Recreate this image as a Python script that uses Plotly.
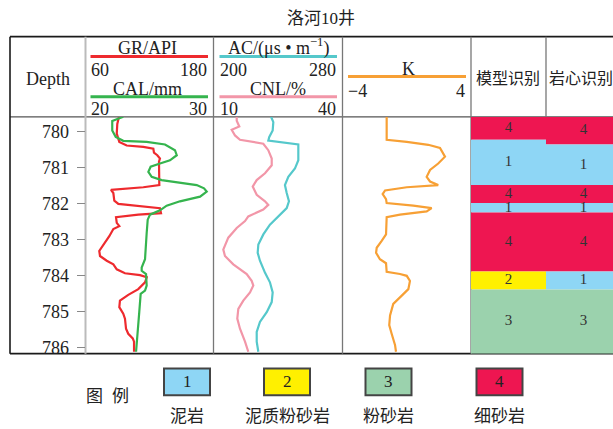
import plotly.graph_objects as go

W, H = 613, 429

# ---------------- data ----------------
DEPTH_TOP, DEPTH_BOT = 779.595, 786.173
depth_ticks = [780, 781, 782, 783, 784, 785, 786]

# Track 1: GR (API) and CAL (mm)
gr_depth = [779.59, 779.79, 780.06, 780.29, 780.39, 780.43, 780.48, 780.59, 780.66, 780.75,
            780.84, 781.16, 781.49, 781.55, 781.60, 781.62, 781.71, 781.92, 782.01, 782.08,
            782.13, 782.27, 782.31, 782.38, 782.54, 782.63, 782.71, 782.91, 783.09, 783.32,
            783.46, 783.59, 783.69, 783.83, 783.94, 783.99, 784.05, 784.19, 784.38, 784.54,
            784.70, 784.88, 785.06, 785.20, 785.48, 785.62, 785.75, 785.84, 786.12]
gr_value = [91.4, 89.8, 89.3, 91.7, 98.6, 114.2, 123.6, 124.2, 127.3, 129.8,
            128.9, 128.9, 129.2, 114.2, 95.4, 83.9, 86.1, 87.0, 90.8, 111.1,
            129.8, 130.8, 109.5, 88.6, 89.3, 91.7, 86.1, 82.3, 78.3, 72.9,
            73.6, 79.9, 86.1, 89.3, 97.0, 111.1, 117.4, 115.8, 109.5, 100.1,
            92.3, 91.7, 95.4, 97.0, 98.0, 100.1, 104.3, 105.5, 105.5]

cal_depth = [779.59, 779.71, 779.97, 780.15, 780.26, 780.29, 780.36, 780.52, 780.66, 780.80,
             780.89, 780.98, 781.12, 781.26, 781.35, 781.42, 781.49, 781.58, 781.67, 781.81,
             781.94, 782.06, 782.19, 782.31, 782.45, 782.82, 783.18, 783.55, 783.78, 783.87,
             783.96, 784.28, 784.42, 784.51, 785.02, 785.57, 786.12]
cal_value = [22.95, 22.09, 22.09, 22.36, 22.95, 24.78, 26.21, 26.99, 27.13, 26.60,
             25.82, 25.09, 24.91, 25.17, 25.95, 27.38, 28.69, 29.26, 29.47, 28.95,
             27.38, 26.34, 25.82, 25.04, 24.86, 24.78, 24.70, 24.65, 24.39, 24.39,
             24.73, 24.78, 24.65, 24.31, 24.20, 24.08, 23.95]

# Track 2: AC (us/m) and CNL (%)
ac_depth = [779.59, 779.74, 779.97, 780.15, 780.25, 780.36, 780.80, 781.03, 781.26, 781.49,
            781.71, 781.94, 782.13, 782.36, 782.59, 782.86, 783.14, 783.37, 783.59, 783.92,
            784.19, 784.47, 784.74, 785.02, 785.29, 785.57, 785.84, 786.12]
ac_value = [235.7, 237.1, 236.7, 234.6, 234.0, 252.6, 252.6, 250.5, 246.4, 244.3,
            245.4, 246.8, 245.4, 240.2, 235.0, 230.9, 227.8, 227.4, 228.8, 231.9,
            235.0, 236.7, 236.1, 233.0, 228.8, 226.8, 226.8, 227.8]

cnl_depth = [779.59, 779.70, 779.86, 779.95, 780.11, 780.23, 780.34, 780.52, 780.75, 780.94,
             781.16, 781.35, 781.53, 781.76, 781.94, 782.04, 782.17, 782.36, 782.49, 782.68,
             782.95, 783.28, 783.46, 783.69, 783.96, 784.15, 784.28, 784.47, 784.70, 784.93,
             785.20, 785.48, 785.84, 786.12]
cnl_value = [15.40, 15.40, 16.00, 14.23, 15.00, 16.16, 21.58, 22.74, 23.54, 23.54,
             21.98, 20.05, 19.12, 20.05, 21.98, 22.74, 21.58, 18.09, 17.33, 15.40,
             13.44, 12.28, 12.67, 14.60, 17.72, 18.88, 19.26, 18.49, 16.93, 15.77,
             15.53, 16.16, 17.33, 18.09]

# Track 3: K
k_depth = [779.59, 780.23, 780.29, 780.37, 780.46, 780.70, 780.89, 781.07, 781.26, 781.39,
           781.49, 781.55, 781.64, 781.74, 781.88, 781.99, 782.06, 782.13, 782.22, 782.31,
           782.38, 782.86, 783.04, 783.23, 783.37, 783.55, 783.66, 783.90, 783.96, 784.01,
           784.15, 784.38, 784.56, 784.79, 785.11, 785.38, 785.62, 785.93, 786.12]
k_value = [-1.25, -1.25, 0.00, 1.34, 2.07, 2.38, 1.96, 1.45, 1.24, 1.45,
           1.96, 0.00, -1.35, -1.50, -1.29, -1.25, 0.41, 1.55, 1.24, -0.42,
           -1.25, -1.29, -1.56, -1.87, -1.91, -1.67, -1.29, -1.25, -0.42, 0.00,
           0.20, 0.10, -0.31, -0.84, -1.04, -1.09, -0.94, -0.73, -0.67]

# Lithology columns: code per interval, interval tops and bottoms (m)
model_code = [4, 1, 4, 1, 4, 2, 3]
model_top = [779.595, 780.23, 781.49, 781.99, 782.25, 783.89, 784.39]
model_bot = [780.23, 781.49, 781.99, 782.25, 783.89, 784.39, 786.173]

core_code = [4, 1, 4, 1, 4, 1, 3]
core_top = [779.595, 780.36, 781.49, 781.99, 782.25, 783.89, 784.39]
core_bot = [780.36, 781.49, 781.99, 782.25, 783.89, 784.39, 786.173]

litho_codes = [1, 2, 3, 4]
litho_names = ["泥岩", "泥质粉砂岩", "粉砂岩", "细砂岩"]
litho_colors = {1: "#8ED6F5", 2: "#FFF000", 3: "#9BD2AD", 4: "#EE1651"}

# ---------------- styling ----------------
SERIF = "Liberation Serif, Noto Sans CJK SC"
CJK = "Noto Sans CJK SC"
TXT = "#222222"
C_GR, C_CAL = "#EE2A2E", "#35B44E"
C_AC, C_CNL = "#55C8CB", "#F296A8"
C_K = "#F7A035"


def px(x):
    return x / W


def py(y):
    return 1 - y / H


# layout columns (pixel edges)
X_LEFT, X_T1, X_T2, X_T3, X_T4, X_T5, X_RIGHT = 10, 85.5, 213.5, 342.5, 471, 546, 613
Y_TOP, Y_HEAD, Y_BOT = 37, 118, 357

fig = go.Figure()

line_kw = dict(mode="lines", hoverinfo="skip", showlegend=False)
fig.add_trace(go.Scatter(x=gr_value, y=gr_depth, xaxis="x", yaxis="y",
                         line=dict(color=C_GR, width=2.2), **line_kw))
fig.add_trace(go.Scatter(x=cal_value, y=cal_depth, xaxis="x2", yaxis="y",
                         line=dict(color=C_CAL, width=2.2), **line_kw))
fig.add_trace(go.Scatter(x=cnl_value, y=cnl_depth, xaxis="x4", yaxis="y",
                         line=dict(color=C_CNL, width=2.2), **line_kw))
fig.add_trace(go.Scatter(x=ac_value, y=ac_depth, xaxis="x3", yaxis="y",
                         line=dict(color=C_AC, width=2.2), **line_kw))
fig.add_trace(go.Scatter(x=k_value, y=k_depth, xaxis="x5", yaxis="y",
                         line=dict(color=C_K, width=2.2), **line_kw))

# lithology interval bars (model column at 0.5, core column at 1.5)
for xc, codes, tops, bots in [(0.5, model_code, model_top, model_bot),
                              (1.5, core_code, core_top, core_bot)]:
    fig.add_trace(go.Bar(
        x=[xc] * len(codes), y=[b - t for t, b in zip(tops, bots)], base=tops,
        width=1, xaxis="x6", yaxis="y", hoverinfo="skip", showlegend=False,
        marker=dict(color=[litho_colors[c] for c in codes], line=dict(width=0)),
    ))
    fig.add_trace(go.Scatter(
        x=[xc] * len(codes), y=[(t + b) / 2 for t, b in zip(tops, bots)],
        text=[str(c) for c in codes], mode="text", xaxis="x6", yaxis="y",
        textfont=dict(family=SERIF, size=15, color="#333333"),
        hoverinfo="skip", showlegend=False, cliponaxis=False,
    ))

hidden = dict(visible=False, showgrid=False, zeroline=False, fixedrange=True)

shapes = []


def hline(y, x0, x1, color, width):
    shapes.append(dict(type="line", xref="paper", yref="paper", x0=px(x0), x1=px(x1),
                       y0=py(y), y1=py(y), line=dict(color=color, width=width), layer="below"))


def vline(x, y0, y1, color, width, layer="below"):
    shapes.append(dict(type="line", xref="paper", yref="paper", x0=px(x), x1=px(x),
                       y0=py(y0), y1=py(y1), line=dict(color=color, width=width), layer=layer))


# frame and column dividers
hline(Y_TOP, X_LEFT, X_RIGHT, "#1a1a1a", 1.6)
hline(Y_BOT, X_LEFT, X_RIGHT, "#1a1a1a", 1.6)
hline(Y_HEAD, X_LEFT, X_RIGHT, "#555555", 1.2)
vline(X_LEFT, Y_TOP, Y_BOT, "#1a1a1a", 1.6)
vline(X_T1, Y_TOP, Y_BOT, "#BBBBBB", 2)
vline(X_T2, Y_TOP, Y_BOT, "#777777", 1.3)
vline(X_T3, Y_TOP, Y_BOT, "#777777", 1.3)
vline(X_T4, Y_TOP, Y_BOT, "#777777", 1.3)
vline(X_T5, Y_TOP, Y_HEAD, "#777777", 1.3)

# curve legend bars in the header
for x0, x1, y, c in [(90.5, 208, 57, C_GR), (90.5, 208, 97.7, C_CAL),
                     (219.5, 337, 57, C_AC), (219.5, 337, 97.7, C_CNL),
                     (348, 466, 77.3, C_K)]:
    hline(y, x0, x1, c, 3)

annotations = []


def label(text, x, y, size=18, anchor="center", family=SERIF, color=TXT):
    annotations.append(dict(text=text, x=px(x), y=py(y), xref="paper", yref="paper",
                            xanchor=anchor, yanchor="middle", showarrow=False,
                            font=dict(family=family, size=size, color=color)))


label("洛河10井", 321, 19, size=17)
label("Depth", 47.5, 80)
label("GR/API", 147, 48.5)
label("60", 89, 70.5, anchor="left")
label("180", 209, 70.5, anchor="right")
label("CAL/mm", 147, 90)
label("20", 89, 110, anchor="left")
label("30", 209, 110, anchor="right")
label("AC/(μs • m<sup>−1</sup>)", 278, 47)
label("200", 218, 70.5, anchor="left")
label("280", 338, 70.5, anchor="right")
label("CNL/%", 278, 90)
label("10", 218, 110, anchor="left")
label("40", 338, 110, anchor="right")
label("K", 408, 70)
label("−4", 346, 91.5, anchor="left")
label("4", 467, 91.5, anchor="right")
label("模型识别", 508, 78, size=16, family=CJK)
label("岩心识别", 546.5, 78, size=16, family=CJK, anchor="left")

# lithology key below the log
label("图", 94, 398, size=17, family=CJK)
label("例", 120, 398, size=17, family=CJK)
key_x = [164, 264, 365.5, 476.5]
for x0, code, name in zip(key_x, litho_codes, litho_names):
    shapes.append(dict(type="rect", xref="paper", yref="paper",
                       x0=px(x0), x1=px(x0 + 46), y0=py(399), y1=py(372),
                       fillcolor=litho_colors[code], line=dict(color="#444444", width=2)))
    label(str(code), x0 + 23, 385.5, size=17)
    label(name, x0 + 23, 418, size=17, family=CJK)

fig.update_layout(
    width=W, height=H, margin=dict(l=0, r=0, t=0, b=0),
    paper_bgcolor="white", plot_bgcolor="rgba(0,0,0,0)",
    showlegend=False, barmode="overlay",
    shapes=shapes, annotations=annotations,
    xaxis=dict(domain=[px(X_T1), px(X_T2)], range=[60, 180], anchor="y", **hidden),
    xaxis2=dict(overlaying="x", range=[20, 30], anchor="y", **hidden),
    xaxis3=dict(domain=[px(X_T2), px(X_T3)], range=[200, 280], anchor="y", **hidden),
    xaxis4=dict(overlaying="x3", range=[10, 40], anchor="y", **hidden),
    xaxis5=dict(domain=[px(X_T3), px(X_T4)], range=[-4, 4], anchor="y", **hidden),
    xaxis6=dict(domain=[px(X_T4), 1], range=[0, (X_RIGHT - X_T4) / (X_T5 - X_T4)],
                anchor="y", **hidden),
    yaxis=dict(domain=[py(Y_BOT), py(Y_HEAD)], range=[DEPTH_BOT, DEPTH_TOP],
               anchor="x", side="left", tickmode="array", tickvals=depth_ticks,
               ticks="outside", ticklen=8, tickwidth=1, tickcolor="#888888",
               ticklabelstandoff=4,
               tickfont=dict(family=SERIF, size=18, color=TXT),
               showgrid=False, zeroline=False, showline=False, fixedrange=True),
)

fig.write_html("out.html")
